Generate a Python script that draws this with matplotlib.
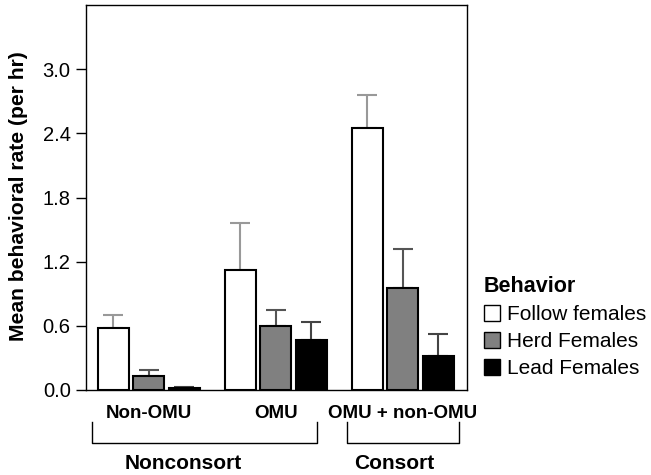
import numpy as np
import matplotlib
matplotlib.use("Agg")
import matplotlib.pyplot as plt
from matplotlib.patches import Patch
import matplotlib.transforms as mtransforms

plt.rcParams['font.family'] = ['Liberation Sans', 'DejaVu Sans']

groups = ["Non-OMU", "OMU", "OMU + non-OMU"]
behaviors = ["Follow females", "Herd Females", "Lead Females"]
follow = [0.58, 1.12, 2.45]
follow_se = [0.125, 0.44, 0.31]
herd = [0.134, 0.60, 0.95]
herd_se = [0.056, 0.15, 0.37]
lead = [0.019, 0.467, 0.318]
lead_se = [0.012, 0.17, 0.205]

fills = ["white", "#808080", "black"]
err_cols = ["#999999", "#555555", "#444444"]

fig = plt.figure(figsize=(6.51, 4.75), dpi=100)
ax = fig.add_axes([0.132, 0.179, 0.585, 0.81])

x = np.arange(len(groups))
w = 0.245
step = 0.28
series = [(follow, follow_se), (herd, herd_se), (lead, lead_se)]
for i, (vals, se) in enumerate(series):
    pos = x + (i - 1) * step
    ax.bar(pos, vals, width=w, color=fills[i], edgecolor="black", linewidth=1.5, zorder=2)
    ax.errorbar(pos, vals, yerr=[np.zeros(len(vals)), se], fmt="none",
                ecolor=err_cols[i], elinewidth=1.5, capsize=7, capthick=1.5, zorder=1)

ax.set_xlim(-0.494, 2.504)
ax.set_ylim(0, 3.6)
ax.set_yticks(np.arange(0, 3.01, 0.6))
ax.set_yticklabels(["%.1f" % v for v in np.arange(0, 3.01, 0.6)], fontsize=14.5)
ax.set_xticks(x)
ax.set_xticklabels(groups, fontsize=13.5, fontweight="bold")
ax.tick_params(axis="x", length=0, pad=11)
ax.tick_params(axis="y", length=7, width=1, pad=4)
for s in ax.spines.values():
    s.set_linewidth(1)
ax.set_ylabel("Mean behavioral rate (per hr)", fontsize=15.2, fontweight="bold")
ax.yaxis.set_label_coords(-0.152, 0.504)

# group brackets under the axis
trans = mtransforms.blended_transform_factory(ax.transData, ax.transAxes)
brackets = [("Nonconsort", x[0] - 0.444, x[1] + 0.323, x[0] + 0.27),
            ("Consort", x[2] - 0.44, x[2] + 0.44, x[2] - 0.07)]
for name, a, b, tx in brackets:
    ax.plot([a, a, b, b], [-0.082, -0.139, -0.139, -0.082], color="black", lw=1,
            transform=trans, clip_on=False)
    ax.text(tx, -0.19, name, transform=trans, ha="center", va="center",
            fontsize=15, fontweight="bold")

handles = [Patch(facecolor=fills[i], edgecolor="black", linewidth=1) for i in range(3)]
leg = fig.legend(handles, behaviors, loc="upper left", bbox_to_anchor=(0.743, 0.419),
                 frameon=False, fontsize=15, title="Behavior", handlelength=0.8,
                 handleheight=0.8, handletextpad=0.3, labelspacing=0.38,
                 borderaxespad=0, borderpad=0)
leg.get_title().set_fontweight("bold")
leg.get_title().set_fontsize(15.5)
leg._legend_box.align = "left"

fig.savefig("out.png", dpi=100)
